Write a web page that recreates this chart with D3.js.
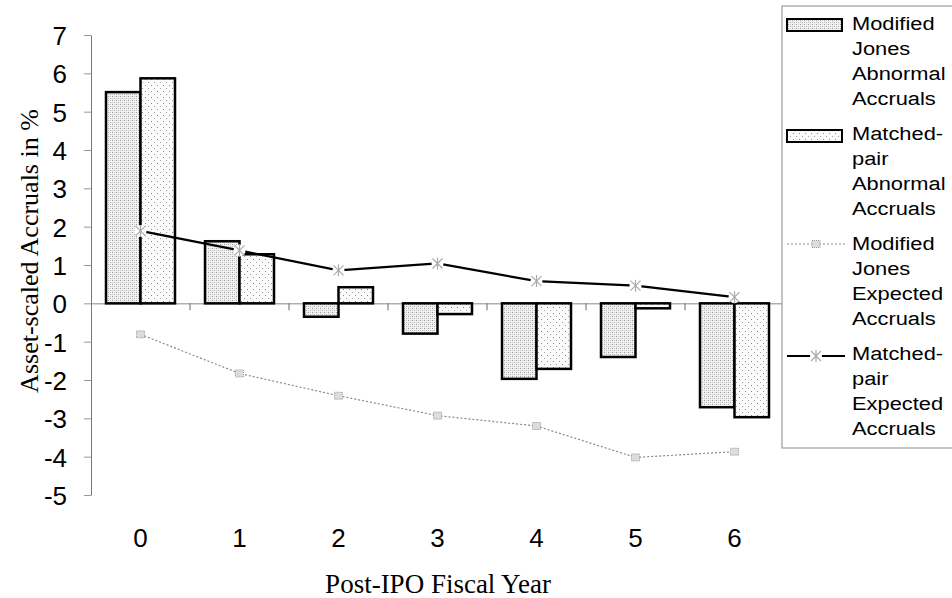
<!DOCTYPE html>
<html>
<head>
<meta charset="utf-8">
<script src="https://cdn.jsdelivr.net/npm/d3@7"></script>
<style>
  body { margin: 0; background: #fff; }
  svg { display: block; }
</style>
</head>
<body>
<script>
// chart values
const years = ['0', '1', '2', '3', '4', '5', '6'];
const mjAbnormal = [5.51, 1.62, -0.35, -0.79, -1.97, -1.40, -2.71];
const mpAbnormal = [5.87, 1.28, 0.42, -0.28, -1.71, -0.13, -2.97];
const mjExpected = [-0.81, -1.83, -2.41, -2.93, -3.20, -4.02, -3.87];
const mpExpected = [1.89, 1.38, 0.86, 1.04, 0.58, 0.46, 0.16];
const yTicks = [7, 6, 5, 4, 3, 2, 1, 0, -1, -2, -3, -4, -5];
const legendItems = [
  ['Modified', 'Jones', 'Abnormal', 'Accruals'],
  ['Matched-', 'pair', 'Abnormal', 'Accruals'],
  ['Modified', 'Jones', 'Expected', 'Accruals'],
  ['Matched-', 'pair', 'Expected', 'Accruals']
];

const W = 952, H = 598;
const sans = '"Liberation Sans", Arial, sans-serif';
const serif = '"Liberation Serif", "Times New Roman", serif';

const svg = d3.select('body').append('svg')
  .attr('width', W).attr('height', H);

// stipple patterns for the bars
const defs = svg.append('defs');
function stipple(id, size, dots, bg) {
  const p = defs.append('pattern').attr('id', id)
    .attr('patternUnits', 'userSpaceOnUse')
    .attr('width', size).attr('height', size);
  p.append('rect').attr('width', size).attr('height', size).attr('fill', bg);
  dots.forEach(d => p.append('rect')
    .attr('x', d[0]).attr('y', d[1]).attr('width', 1).attr('height', 1)
    .attr('fill', d[2]));
}
stipple('mjFill', 4, [[0, 0, '#9a9a9a'], [2, 2, '#b0b0b0'], [2, 0, '#d0d0d0'], [0, 2, '#c8c8c8']], '#f2f2f2');
stipple('mpFill', 6, [[1, 1, '#8a8a8a'], [4, 4, '#a0a0a0']], '#fbfbfb');

const x = d3.scaleBand().domain(years).range([91, 784]).padding(0);
const xs = d3.scaleBand().domain(['mj', 'mp']).range([15, 84]).padding(0);
const y = d3.scaleLinear().domain([-5, 7]).range([495, 35]);
const cx = d => x(d) + x.bandwidth() / 2;

// y axis
const yAxis = svg.append('g')
  .attr('transform', 'translate(91,0)')
  .call(d3.axisLeft(y).tickValues(yTicks).tickSize(7).tickSizeOuter(0).tickFormat(d3.format('d')));
yAxis.select('.domain').attr('stroke', '#777').attr('stroke-width', 1);
yAxis.selectAll('.tick line').attr('stroke', '#999');
yAxis.selectAll('.tick text')
  .attr('x', -24).attr('dy', '0.36em')
  .attr('font-family', sans).attr('font-size', 26).attr('fill', '#000')
  .text(d => d < 0 ? '-' + Math.abs(d) : d);

// x axis sits at zero
const xAxis = svg.append('g')
  .attr('transform', `translate(0,${y(0)})`)
  .call(d3.axisBottom(x).tickSize(0).tickSizeOuter(0));
xAxis.select('.domain').attr('stroke', '#888').attr('stroke-width', 1);
xAxis.selectAll('.tick text').remove();
xAxis.selectAll('.sep')
  .data(years.slice(1).concat(['end']))
  .join('line')
  .attr('x1', (d, i) => x(years[0]) + x.bandwidth() * (i + 1))
  .attr('x2', (d, i) => x(years[0]) + x.bandwidth() * (i + 1))
  .attr('y1', 0).attr('y2', 7)
  .attr('stroke', '#666');

// category labels below the plot
svg.append('g').selectAll('text')
  .data(years)
  .join('text')
  .attr('x', d => cx(d)).attr('y', 547)
  .attr('text-anchor', 'middle')
  .attr('font-family', sans).attr('font-size', 26)
  .text(d => d);

// bars
const bars = svg.append('g');
bars.selectAll('.mj').data(years).join('rect')
  .attr('x', d => x(d) + xs('mj'))
  .attr('width', xs.bandwidth())
  .attr('y', (d, i) => y(Math.max(0, mjAbnormal[i])))
  .attr('height', (d, i) => Math.abs(y(mjAbnormal[i]) - y(0)))
  .attr('fill', 'url(#mjFill)').attr('stroke', '#000').attr('stroke-width', 2.5);
bars.selectAll('.mp').data(years).join('rect')
  .attr('x', d => x(d) + xs('mp'))
  .attr('width', xs.bandwidth())
  .attr('y', (d, i) => y(Math.max(0, mpAbnormal[i])))
  .attr('height', (d, i) => Math.abs(y(mpAbnormal[i]) - y(0)))
  .attr('fill', 'url(#mpFill)').attr('stroke', '#000').attr('stroke-width', 2.5);

// markers
function squareMark(g, px, py) {
  g.append('rect').attr('x', px - 4).attr('y', py - 3.5).attr('width', 8).attr('height', 7)
    .attr('fill', '#ddd').attr('stroke', '#999').attr('stroke-width', 1).attr('stroke-dasharray', '1,1');
}
function starMark(g, px, py) {
  const s = 5;
  g.append('path')
    .attr('d', `M${px - s},${py - s}L${px + s},${py + s}M${px - s},${py + s}L${px + s},${py - s}M${px},${py - s - 1}L${px},${py + s + 1}`)
    .attr('stroke', '#aaa').attr('stroke-width', 1.2).attr('fill', 'none');
}

const line = d3.line().x(d => cx(d[0])).y(d => y(d[1]));

// modified jones expected
const mjLine = svg.append('g');
mjLine.append('path')
  .datum(years.map((d, i) => [d, mjExpected[i]]))
  .attr('d', line)
  .attr('fill', 'none').attr('stroke', '#888').attr('stroke-width', 1.2)
  .attr('stroke-dasharray', '2,2');
years.forEach((d, i) => squareMark(mjLine, cx(d), y(mjExpected[i])));

// matched pair expected
const mpLine = svg.append('g');
mpLine.append('path')
  .datum(years.map((d, i) => [d, mpExpected[i]]))
  .attr('d', line)
  .attr('fill', 'none').attr('stroke', '#000').attr('stroke-width', 2.2);
years.forEach((d, i) => {
  mpLine.append('circle').attr('cx', cx(d)).attr('cy', y(mpExpected[i])).attr('r', 6).attr('fill', '#fff');
  starMark(mpLine, cx(d), y(mpExpected[i]));
});

// axis titles
svg.append('text')
  .attr('transform', 'translate(38,251) rotate(-90)')
  .attr('text-anchor', 'middle')
  .attr('font-family', serif).attr('font-size', 26)
  .text('Asset-scaled Accruals in %');
svg.append('text')
  .attr('x', 438).attr('y', 593)
  .attr('text-anchor', 'middle')
  .attr('font-family', serif).attr('font-size', 27)
  .text('Post-IPO Fiscal Year');

// legend
const leg = svg.append('g');
leg.append('rect')
  .attr('x', 782).attr('y', 6).attr('width', 180).attr('height', 442)
  .attr('fill', '#fff').attr('stroke', '#888').attr('stroke-width', 1);

const groupTop = [30, 140, 250, 360];
legendItems.forEach((lines, gi) => {
  lines.forEach((t, li) => {
    leg.append('text')
      .attr('transform', `translate(852,${groupTop[gi] + li * 25}) scale(1.15,1)`)
      .attr('font-family', sans).attr('font-size', 19)
      .text(t);
  });
});
leg.append('rect').attr('x', 787).attr('y', 19).attr('width', 55).attr('height', 12)
  .attr('fill', 'url(#mjFill)').attr('stroke', '#000').attr('stroke-width', 2);
leg.append('rect').attr('x', 787).attr('y', 130).attr('width', 55).attr('height', 12)
  .attr('fill', 'url(#mpFill)').attr('stroke', '#000').attr('stroke-width', 2);
leg.append('line').attr('x1', 787).attr('x2', 845).attr('y1', 244).attr('y2', 244)
  .attr('stroke', '#888').attr('stroke-width', 1.2).attr('stroke-dasharray', '2,2');
squareMark(leg, 816, 244);
leg.append('line').attr('x1', 787).attr('x2', 845).attr('y1', 356).attr('y2', 356)
  .attr('stroke', '#000').attr('stroke-width', 2.2);
leg.append('circle').attr('cx', 816).attr('cy', 356).attr('r', 6).attr('fill', '#fff');
starMark(leg, 816, 356);
</script>
</body>
</html>
